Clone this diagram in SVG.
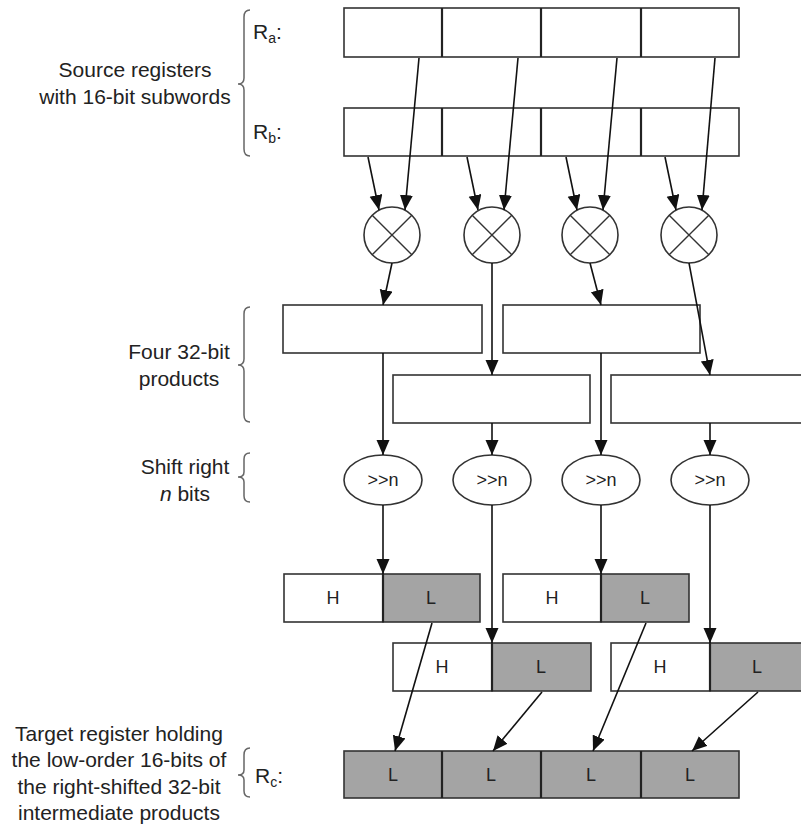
<svg xmlns="http://www.w3.org/2000/svg" width="801" height="827" viewBox="0 0 801 827">
  <style>
    .box { fill: #ffffff; stroke: #333333; stroke-width: 1.6; }
    .grey { fill: #a4a4a4; stroke: #333333; stroke-width: 1.6; }
    .div { stroke: #222222; stroke-width: 2.2; }
    .op { fill: #ffffff; stroke: #333333; stroke-width: 1.6; }
    .cross { stroke: #333333; stroke-width: 1.4; }
    .brace { fill: none; stroke: #666666; stroke-width: 1.5; }
    .wire { fill: none; stroke: #111111; stroke-width: 1.6; marker-end: url(#arrow); }
    .lbl { font-family: "Liberation Sans", Arial, sans-serif; font-size: 21px; fill: #222222; text-anchor: middle; }
    .reg { font-family: "Liberation Sans", Arial, sans-serif; font-size: 21px; fill: #222222; }
    .sub { font-size: 14px; }
    .cell { font-family: "Liberation Sans", Arial, sans-serif; font-size: 18px; fill: #222222; text-anchor: middle; }
  </style>
  <defs>
    <marker id="arrow" markerUnits="userSpaceOnUse" markerWidth="16" markerHeight="14" refX="15" refY="6.5" orient="auto">
      <path d="M0,0 L15,6.5 L0,13 z" fill="#111111"/>
    </marker>
  </defs>

  <!-- side captions and braces -->
  <g id="caption-sources">
    <text class="lbl" x="135" y="77">Source registers</text>
    <text class="lbl" x="135" y="104">with 16-bit subwords</text>
    <path class="brace" d="M250,10 Q244,10 244,17 L244,78 Q244,84 238,84 Q244,84 244,90 L244,149 Q244,156 250,156"/>
  </g>
  <g id="caption-products">
    <text class="lbl" x="179" y="359">Four 32-bit</text>
    <text class="lbl" x="179" y="386">products</text>
    <path class="brace" d="M250,307 Q244,307 244,314 L244,359 Q244,365 238,365 Q244,365 244,371 L244,415 Q244,422 250,422"/>
  </g>
  <g id="caption-shift">
    <text class="lbl" x="185" y="474">Shift right</text>
    <text class="lbl" x="185" y="501"><tspan font-style="italic">n</tspan> bits</text>
    <path class="brace" d="M250,453 Q244,453 244,459 L244,472 Q244,477 238,477 Q244,477 244,482 L244,496 Q244,502 250,502"/>
  </g>
  <g id="caption-target">
    <text class="lbl" x="119" y="741">Target register holding</text>
    <text class="lbl" x="119" y="767">the low-order 16-bits of</text>
    <text class="lbl" x="119" y="794">the right-shifted 32-bit</text>
    <text class="lbl" x="119" y="820">intermediate products</text>
    <path class="brace" d="M250,748 Q244,748 244,755 L244,770 Q244,775 238,775 Q244,775 244,780 L244,791 Q244,797 250,797"/>
  </g>

  <!-- source register Ra -->
  <g id="reg-ra">
    <text class="reg" x="253" y="39">R<tspan class="sub" dy="4">a</tspan><tspan dy="-4">:</tspan></text>
    <rect class="box" x="344" y="8" width="395" height="49"/>
    <line class="div" x1="442" y1="8" x2="442" y2="57"/>
    <line class="div" x1="541" y1="8" x2="541" y2="57"/>
    <line class="div" x1="641" y1="8" x2="641" y2="57"/>
  </g>

  <!-- source register Rb -->
  <g id="reg-rb">
    <text class="reg" x="253" y="139">R<tspan class="sub" dy="4">b</tspan><tspan dy="-4">:</tspan></text>
    <rect class="box" x="344" y="108" width="395" height="48"/>
    <line class="div" x1="442" y1="108" x2="442" y2="156"/>
    <line class="div" x1="541" y1="108" x2="541" y2="156"/>
    <line class="div" x1="641" y1="108" x2="641" y2="156"/>
  </g>

  <!-- multipliers -->
  <g id="mul-1">
    <circle class="op" cx="392" cy="235" r="28"/>
    <path class="cross" d="M372.2,215.2 L411.8,254.8 M411.8,215.2 L372.2,254.8"/>
  </g>
  <g id="mul-2">
    <circle class="op" cx="492" cy="235" r="28"/>
    <path class="cross" d="M472.2,215.2 L511.8,254.8 M511.8,215.2 L472.2,254.8"/>
  </g>
  <g id="mul-3">
    <circle class="op" cx="590" cy="235" r="28"/>
    <path class="cross" d="M570.2,215.2 L609.8,254.8 M609.8,215.2 L570.2,254.8"/>
  </g>
  <g id="mul-4">
    <circle class="op" cx="689" cy="235" r="28"/>
    <path class="cross" d="M669.2,215.2 L708.8,254.8 M708.8,215.2 L669.2,254.8"/>
  </g>

  <!-- 32-bit products -->
  <g id="prod-1"><rect class="box" x="283" y="305" width="199" height="48"/></g>
  <g id="prod-2"><rect class="box" x="393" y="375" width="197" height="48"/></g>
  <g id="prod-3"><rect class="box" x="503" y="305" width="197" height="48"/></g>
  <g id="prod-4"><rect class="box" x="611" y="375" width="195" height="48"/></g>

  <!-- shifters -->
  <g id="shift-1">
    <ellipse class="op" cx="383" cy="480" rx="39" ry="25"/>
    <text class="cell" x="383" y="486">&gt;&gt;n</text>
  </g>
  <g id="shift-2">
    <ellipse class="op" cx="492" cy="480" rx="39" ry="25"/>
    <text class="cell" x="492" y="486">&gt;&gt;n</text>
  </g>
  <g id="shift-3">
    <ellipse class="op" cx="601" cy="480" rx="39" ry="25"/>
    <text class="cell" x="601" y="486">&gt;&gt;n</text>
  </g>
  <g id="shift-4">
    <ellipse class="op" cx="710" cy="480" rx="39" ry="25"/>
    <text class="cell" x="710" y="486">&gt;&gt;n</text>
  </g>

  <!-- shifted results, high / low halves -->
  <g id="shifted-1">
    <rect class="box" x="284" y="574" width="99" height="48"/>
    <rect class="grey" x="383" y="574" width="97" height="48"/>
    <line class="div" x1="383" y1="574" x2="383" y2="622"/>
    <text class="cell" x="333" y="604">H</text>
    <text class="cell" x="431" y="604">L</text>
  </g>
  <g id="shifted-2">
    <rect class="box" x="393" y="643" width="99" height="48"/>
    <rect class="grey" x="492" y="643" width="99" height="48"/>
    <line class="div" x1="492" y1="643" x2="492" y2="691"/>
    <text class="cell" x="442" y="673">H</text>
    <text class="cell" x="541" y="673">L</text>
  </g>
  <g id="shifted-3">
    <rect class="box" x="503" y="574" width="98" height="48"/>
    <rect class="grey" x="601" y="574" width="88" height="48"/>
    <line class="div" x1="601" y1="574" x2="601" y2="622"/>
    <text class="cell" x="552" y="604">H</text>
    <text class="cell" x="645" y="604">L</text>
  </g>
  <g id="shifted-4">
    <rect class="box" x="611" y="643" width="99" height="48"/>
    <rect class="grey" x="710" y="643" width="96" height="48"/>
    <line class="div" x1="710" y1="643" x2="710" y2="691"/>
    <text class="cell" x="660" y="673">H</text>
    <text class="cell" x="757" y="673">L</text>
  </g>

  <!-- target register Rc -->
  <g id="reg-rc">
    <text class="reg" x="255" y="783">R<tspan class="sub" dy="4">c</tspan><tspan dy="-4">:</tspan></text>
    <rect class="grey" x="344" y="751" width="395" height="47"/>
    <line class="div" x1="442" y1="751" x2="442" y2="798"/>
    <line class="div" x1="541" y1="751" x2="541" y2="798"/>
    <line class="div" x1="641" y1="751" x2="641" y2="798"/>
    <text class="cell" x="393" y="781">L</text>
    <text class="cell" x="491" y="781">L</text>
    <text class="cell" x="591" y="781">L</text>
    <text class="cell" x="690" y="781">L</text>
  </g>

  <!-- data flow -->
  <g id="connectors">
    <line class="wire" x1="419" y1="58" x2="405" y2="210"/>
    <line class="wire" x1="518" y1="58" x2="504" y2="210"/>
    <line class="wire" x1="617" y1="58" x2="603" y2="210"/>
    <line class="wire" x1="715" y1="58" x2="702" y2="210"/>
    <line class="wire" x1="368" y1="157" x2="379" y2="210"/>
    <line class="wire" x1="467" y1="157" x2="478" y2="210"/>
    <line class="wire" x1="566" y1="157" x2="577" y2="210"/>
    <line class="wire" x1="665" y1="157" x2="676" y2="210"/>

    <line class="wire" x1="392" y1="263" x2="383" y2="305"/>
    <line class="wire" x1="492" y1="263" x2="492" y2="375"/>
    <line class="wire" x1="590" y1="263" x2="601" y2="305"/>
    <line class="wire" x1="689" y1="263" x2="710" y2="375"/>

    <line class="wire" x1="383" y1="353" x2="383" y2="455"/>
    <line class="wire" x1="492" y1="423" x2="492" y2="455"/>
    <line class="wire" x1="601" y1="353" x2="601" y2="455"/>
    <line class="wire" x1="710" y1="423" x2="710" y2="455"/>

    <line class="wire" x1="383" y1="505" x2="383" y2="574"/>
    <line class="wire" x1="492" y1="505" x2="492" y2="643"/>
    <line class="wire" x1="601" y1="505" x2="601" y2="574"/>
    <line class="wire" x1="710" y1="505" x2="710" y2="643"/>

    <line class="wire" x1="432" y1="623" x2="395" y2="751"/>
    <line class="wire" x1="542" y1="692" x2="493" y2="751"/>
    <line class="wire" x1="646" y1="623" x2="593" y2="751"/>
    <line class="wire" x1="758" y1="692" x2="692" y2="751"/>
  </g>
</svg>
